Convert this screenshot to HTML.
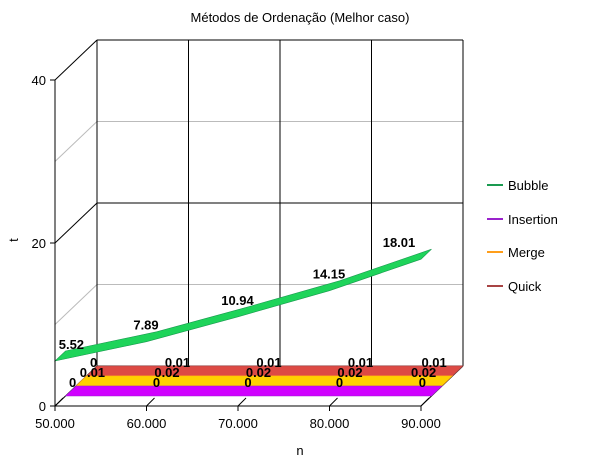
<!DOCTYPE html>
<html><head><meta charset="utf-8"><style>
body{margin:0;background:#fff;}
svg{display:block;font-family:"Liberation Sans",Arial,sans-serif;}
</style></head><body>
<svg id="chart" width="600" height="463">
<text x="300" y="22" text-anchor="middle" font-size="13">Métodos de Ordenação (Melhor caso)</text>
<g id="grid"></g>
<g id="series"></g>
<g id="labels"></g>
<g id="axes"></g>
<text x="18" y="240" text-anchor="middle" font-size="13" transform="rotate(-90 18 240)">t</text>
<text x="300" y="455" text-anchor="middle" font-size="13">n</text>
<g id="legend"></g>
</svg>
<script>
const categories=[50000,60000,70000,80000,90000];
const tickLabels=["50.000","60.000","70.000","80.000","90.000"];
const seriesNames=["Bubble","Insertion","Merge","Quick"];
const bubble=[5.52,7.89,10.94,14.15,18.01];
const insertion=[0,0,0,0,0];
const merge=[0.01,0.02,0.02,0.02,0.02];
const quick=[0,0.01,0.01,0.01,0.01];
const yTicks=[0,20,40];

const NS="http://www.w3.org/2000/svg";
const X0=55,X1=421,Y0=406,PY=8.15,DX=42,DY=-40;
const fills=["#1ed45a","#d000ff","#ffd000","#dd4a44"];
const lineCols=["#1a9a50","#9a22cc","#ff9e1a","#a84444"];
const xs=v=>X0+(v-categories[0])/(categories[categories.length-1]-categories[0])*(X1-X0);
const ys=v=>Y0-v*PY;
function el(t,a,p){const e=document.createElementNS(NS,t);for(const k in a)e.setAttribute(k,a[k]);p.appendChild(e);return e;}
const grid=document.getElementById('grid'),ser=document.getElementById('series'),lab=document.getElementById('labels'),axes=document.getElementById('axes'),leg=document.getElementById('legend');

[10,30].forEach(v=>{
 let g=el('line',{x1:X0+DX,y1:ys(v)+DY,x2:X1+DX,y2:ys(v)+DY,stroke:'#bbb'},grid);
 
 g=el('line',{x1:X0,y1:ys(v),x2:X0+DX,y2:ys(v)+DY,stroke:'#bbb'},grid);
 
});
[20,40].forEach(v=>{
 let g=el('line',{x1:X0+DX,y1:ys(v)+DY,x2:X1+DX,y2:ys(v)+DY,stroke:'#000'},grid);
 
 g=el('line',{x1:X0,y1:ys(v),x2:X0+DX,y2:ys(v)+DY,stroke:'#000'},grid);
 
});
categories.forEach((c,i)=>{
 const g=el('line',{x1:xs(c)+DX,y1:ys(0)+DY,x2:xs(c)+DX,y2:ys(40)+DY,stroke:'#000'},grid);
 
});
let fl=el('line',{x1:X0,y1:Y0,x2:X1,y2:Y0,stroke:'#000'},axes);

fl=el('line',{x1:X0,y1:Y0,x2:X0,y2:ys(40),stroke:'#000'},axes);

fl=el('line',{x1:X0,y1:Y0,x2:X0+DX,y2:Y0+DY,stroke:'#000'},grid);

fl=el('line',{x1:X1,y1:Y0,x2:X1+DX,y2:Y0+DY,stroke:'#000'},grid);

fl=el('line',{x1:X0+DX,y1:Y0+DY,x2:X1+DX,y2:Y0+DY,stroke:'#000'},grid);


yTicks.forEach(v=>{
 const t=el('line',{x1:X0-5,y1:ys(v),x2:X0,y2:ys(v),stroke:'#000'},axes);
 
 const tx=el('text',{x:X0-9,y:ys(v)+5,'text-anchor':'end','font-size':13},axes);
 tx.textContent=v;
 
});
categories.forEach((c,i)=>{
 const t=el('line',{x1:xs(c),y1:Y0+5,x2:xs(c),y2:Y0,stroke:'#000'},axes);
 
 const d=el('line',{x1:xs(c),y1:Y0,x2:xs(c)+8,y2:Y0-8,stroke:'#000'},axes);
 
 const tx=el('text',{x:xs(c),y:Y0+22,'text-anchor':'middle','font-size':13},axes);
 tx.textContent=tickLabels[i];
 
});

const data=[bubble,insertion,merge,quick];
const order=[3,2,1,0];
order.forEach(s=>{
 const d0=s/4,d1=(s+1)/4;
 const vals=data[s];
 const front=vals.map((v,i)=>[xs(categories[i])+DX*d0,ys(v)+DY*d0]);
 const back=vals.map((v,i)=>[xs(categories[i])+DX*d1,ys(v)+DY*d1]);
 const pts=front.concat(back.slice().reverse()).map(p=>p[0].toFixed(1)+','+p[1].toFixed(1)).join(' ');
 const poly=el('polygon',{points:pts,fill:fills[s],stroke:lineCols[s],'stroke-width':0.6},ser);
 
 
 vals.forEach((v,i)=>{
  const txt=String(v);
  const w=txt.length*7.2-(txt.includes('.')?3:0);
  let cx=back[i][0]-11;
  if(i===0) cx=Math.max(cx,back[i][0]-7+w/2);
  if(i===vals.length-1) cx=Math.min(cx,back[i][0]-16-w/2);
  const t=el('text',{x:cx,y:back[i][1]+(s===0?-2:1),'text-anchor':'middle','font-size':13,'font-weight':'bold'},lab);
  t.textContent=txt;
  
  
 });
});

const ly=[185,219,252,286];
seriesNames.forEach((n,i)=>{
 const g=el('g',{},leg);
 
 
 el('line',{x1:487,y1:ly[i],x2:503,y2:ly[i],stroke:lineCols[i],'stroke-width':2},g);
 const t=el('text',{x:508,y:ly[i]+5,'font-size':13},g);
 t.textContent=n;
});
</script>
</body></html>
